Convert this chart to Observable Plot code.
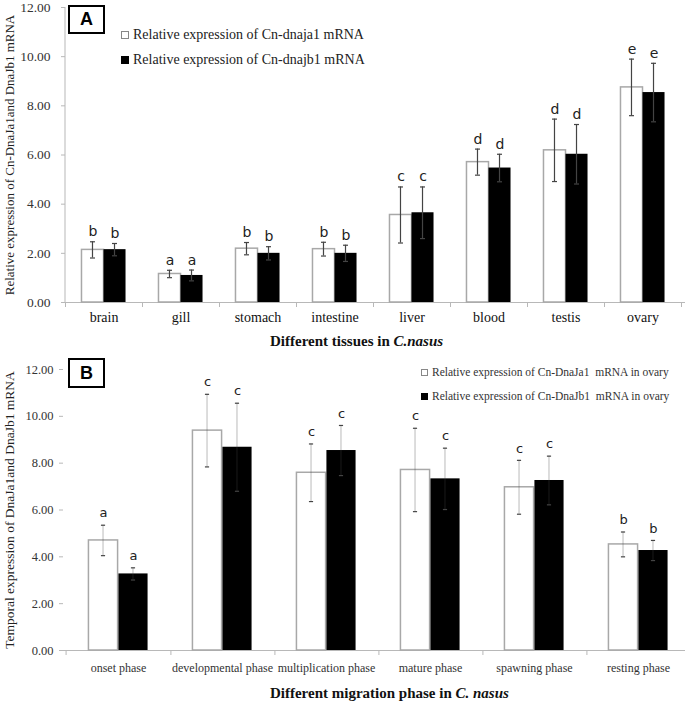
<!DOCTYPE html>
<html><head><meta charset="utf-8">
<script src="https://cdn.jsdelivr.net/npm/d3@7"></script>
<script src="https://cdn.jsdelivr.net/npm/@observablehq/plot@0.6"></script>
<style>
body{margin:0;background:#fff;}
#wrap{position:relative;width:685px;height:703px;overflow:hidden;background:#fff;}
.panel svg{display:block;}
.box{position:absolute;border:2.5px solid #000;box-sizing:border-box;font:bold 18px "Liberation Sans",Arial,sans-serif;display:flex;align-items:center;justify-content:center;background:#fff;}
.leg{position:absolute;font-family:"Liberation Serif","Times New Roman",serif;white-space:pre;display:flex;align-items:center;}
.sq{display:inline-block;box-sizing:border-box;margin-right:4px;}
</style></head>
<body><div id="wrap">
<div id="pa" class="panel"></div>
<div id="pb" class="panel"></div>
</div>
<script>
// ---------- Panel A data ----------
const tissues = ["brain","gill","stomach","intestine","liver","blood","testis","ovary"];
const dnaja1A = [2.14,1.16,2.19,2.17,3.56,5.71,6.19,8.75];
const dnaja1AErr = [0.33,0.15,0.25,0.28,1.14,0.53,1.27,1.15];
const dnajb1A = [2.15,1.10,2.00,2.00,3.65,5.47,6.03,8.54];
const dnajb1AErr = [0.25,0.22,0.27,0.33,1.05,0.56,1.21,1.19];
const lettersA1 = ["b","a","b","b","c","d","d","e"];
const lettersA2 = ["b","a","b","b","c","d","d","e"];
const yTicksA = [0,2,4,6,8,10,12];
const legendA = ["Relative expression of Cn-dnaja1 mRNA","Relative expression of Cn-dnajb1 mRNA"];
const yTitleA = "Relative expression of Cn-DnaJa1and DnaJb1 mRNA";
const xTitleA = ["Different tissues in ","C.nasus"];

// ---------- Panel B data ----------
const phases = ["onset phase","developmental phase","multiplication phase","mature phase","spawning phase","resting phase"];
const dnaja1B = [4.70,9.39,7.59,7.71,6.97,4.53];
const dnaja1BErr = [0.65,1.55,1.23,1.78,1.15,0.53];
const dnajb1B = [3.27,8.68,8.54,7.33,7.26,4.27];
const dnajb1BErr = [0.26,1.88,1.07,1.31,1.04,0.43];
const lettersB1 = ["a","c","c","c","c","b"];
const lettersB2 = ["a","c","c","c","c","b"];
const yTicksB = [0,2,4,6,8,10,12];
const legendB = ["Relative expression of Cn-DnaJa1  mRNA in ovary","Relative expression of Cn-DnaJb1  mRNA in ovary"];
const yTitleB = "Temporal expression of DnaJa1and DnaJb1 mRNA";
const xTitleB = ["Different migration phase in ","C. nasus"];

function makePanel(o){
  const bw = (o.xr[1]-o.xr[0])/o.cats.length;
  const barW = bw*0.286;
  const cap = 2.5, lw = 0.6;
  const r1 = o.cats.map((c,i)=>({cat:c,v:o.s1[i],e:o.e1[i],l:o.l1[i]}));
  const r2 = o.cats.map((c,i)=>({cat:c,v:o.s2[i],e:o.e2[i],l:o.l2[i]}));
  const c1 = bw/2 - barW/2, c2 = bw/2 + barW/2; // centers within band
  const yMid = (o.yTicks[0] + o.yTicks[o.yTicks.length-1]) / 2;
  const errMarks = (rows, c) => [
    Plot.barY(rows,{x:"cat",y1:d=>d.v-d.e,y2:d=>d.v+d.e,fill:"#444",insetLeft:c-lw,insetRight:bw-c-lw}),
    Plot.tickY(rows,{x:"cat",y:d=>d.v+d.e,stroke:"#444",strokeWidth:1.2,insetLeft:c-cap,insetRight:bw-c-cap}),
    Plot.tickY(rows,{x:"cat",y:d=>d.v-d.e,stroke:"#444",strokeWidth:1.2,insetLeft:c-cap,insetRight:bw-c-cap})
  ];
  const marks = [
    Plot.ruleY([0],{stroke:"#b8b8b8",strokeWidth:1.2}),
    Plot.ruleX(o.cats,{x:d=>d,dx:bw/2,y1:0,y2:0,insetBottom:-5,stroke:"#b8b8b8"}),
    Plot.ruleX([o.cats[0]],{x:d=>d,dx:-bw/2,y1:0,y2:0,insetBottom:-5,stroke:"#b8b8b8"}),
  ];
  if (o.yLine) marks.push(Plot.barY([o.cats[0]],{x:d=>d,y1:0,y2:12,fill:"#c4c4c4",insetLeft:-0.6,insetRight:bw-0.6}));
  marks.push(
    Plot.barY(r1,{x:"cat",y:"v",fill:"white",stroke:"#a8a8a8",strokeWidth:1.5,insetLeft:bw/2-barW,insetRight:bw/2}),
    ...errMarks(r1,c1),
    Plot.barY(r2,{x:"cat",y:"v",fill:"black",insetLeft:bw/2,insetRight:bw/2-barW}),
    ...errMarks(r2,c2),
    Plot.text(r1,{x:"cat",y:d=>d.v+d.e,text:"l",dx:-barW/2,dy:-o.ldy,fontFamily:"DejaVu Sans",fontSize:o.lfs,fill:"#222",lineAnchor:"middle"}),
    Plot.text(r2,{x:"cat",y:d=>d.v+d.e,text:"l",dx:barW/2,dy:-o.ldy,fontFamily:"DejaVu Sans",fontSize:o.lfs,fill:"#222",lineAnchor:"middle"}),
    Plot.axisY({ticks:o.yTicks,tickFormat:d=>d.toFixed(2),tickSize:4,tickPadding:o.ytp,stroke:"#b8b8b8",color:"#333",fontSize:o.ytfs,label:null}),
    Plot.axisX({tickSize:0,tickPadding:o.xtp,color:o.xtc,fontSize:o.xtfs,label:null}),
    Plot.text([o.yTitle],{text:d=>d,y:()=>yMid,frameAnchor:"left",rotate:-90,dx:o.ytdx,fontSize:o.ytitfs,fill:"#222",lineAnchor:"middle",textAnchor:"middle"}),
    Plot.text([o.xTitle[0]],{text:d=>d,frameAnchor:"bottom",textAnchor:"end",dx:o.xtdx,dy:o.xtdy,fontSize:15,fontWeight:"bold",fill:"#111",lineAnchor:"middle"}),
    Plot.text([o.xTitle[1]],{text:d=>d,frameAnchor:"bottom",textAnchor:"start",dx:o.xtdx,dy:o.xtdy,fontSize:15,fontWeight:"bold",fontStyle:"italic",fill:"#111",lineAnchor:"middle"})
  );
  return Plot.plot({
    width:685, height:o.height,
    marginTop:o.mt, marginBottom:o.mb, marginLeft:o.xr[0], marginRight:0,
    style:{fontFamily:"'Liberation Serif','Times New Roman',serif",fontSize:"14px",background:"white",overflow:"visible"},
    x:{type:"band",domain:o.cats,range:o.xr,padding:0},
    y:{domain:[0,12],range:[o.height-o.mb,o.mt]},
    marks
  });
}

const svgA = makePanel({cats:tissues,s1:dnaja1A,e1:dnaja1AErr,s2:dnajb1A,e2:dnajb1AErr,l1:lettersA1,l2:lettersA2,
  height:350,mt:7,mb:48,xr:[65,681],yTicks:yTicksA,ytp:11,ytfs:13.5,xtp:10,xtc:"#111",xtfs:14,
  yTitle:yTitleA,ytdx:-56,ytitfs:13,xTitle:xTitleA,xtdx:18,xtdy:39,ldy:10,lfs:14,yLine:true});
document.getElementById("pa").appendChild(svgA);

const svgB = makePanel({cats:phases,s1:dnaja1B,e1:dnaja1BErr,s2:dnajb1B,e2:dnajb1BErr,l1:lettersB1,l2:lettersB2,
  height:353,mt:19,mb:53,xr:[63,692],yTicks:yTicksB,ytp:6,ytfs:12.5,xtp:13,xtc:"#333",xtfs:12,
  yTitle:yTitleB,ytdx:-54,ytitfs:13.5,xTitle:xTitleB,xtdx:81,xtdy:43,ldy:12,lfs:13,yLine:false});
document.getElementById("pb").appendChild(svgB);

// Panel boxes and legends (HTML overlays)
const wrap = document.getElementById("wrap");
function box(txt,l,t,w,h){const d=document.createElement("div");d.className="box";d.textContent=txt;
  Object.assign(d.style,{left:l+"px",top:t+"px",width:w+"px",height:h+"px"});wrap.appendChild(d);}
box("A",68,5,37,29);
box("B",68,358,37,30);
function legend(items,l,tops,fs,sq,color){
  items.forEach((txt,i)=>{
    const d=document.createElement("div");d.className="leg";
    Object.assign(d.style,{left:l+"px",top:(tops[i]-10)+"px",height:"20px",fontSize:fs+"px",color});
    const s=document.createElement("span");s.className="sq";
    Object.assign(s.style,{width:sq+"px",height:sq+"px",background:i===0?"#fff":"#000",border:"1px solid "+(i===0?"#888":"#000")});
    d.appendChild(s);d.appendChild(document.createTextNode(txt));wrap.appendChild(d);
  });
}
legend(legendA,121,[35,60],14,8,"#222");
legend(legendB,421,[372,396],11.5,7,"#333");
</script>
</body></html>
